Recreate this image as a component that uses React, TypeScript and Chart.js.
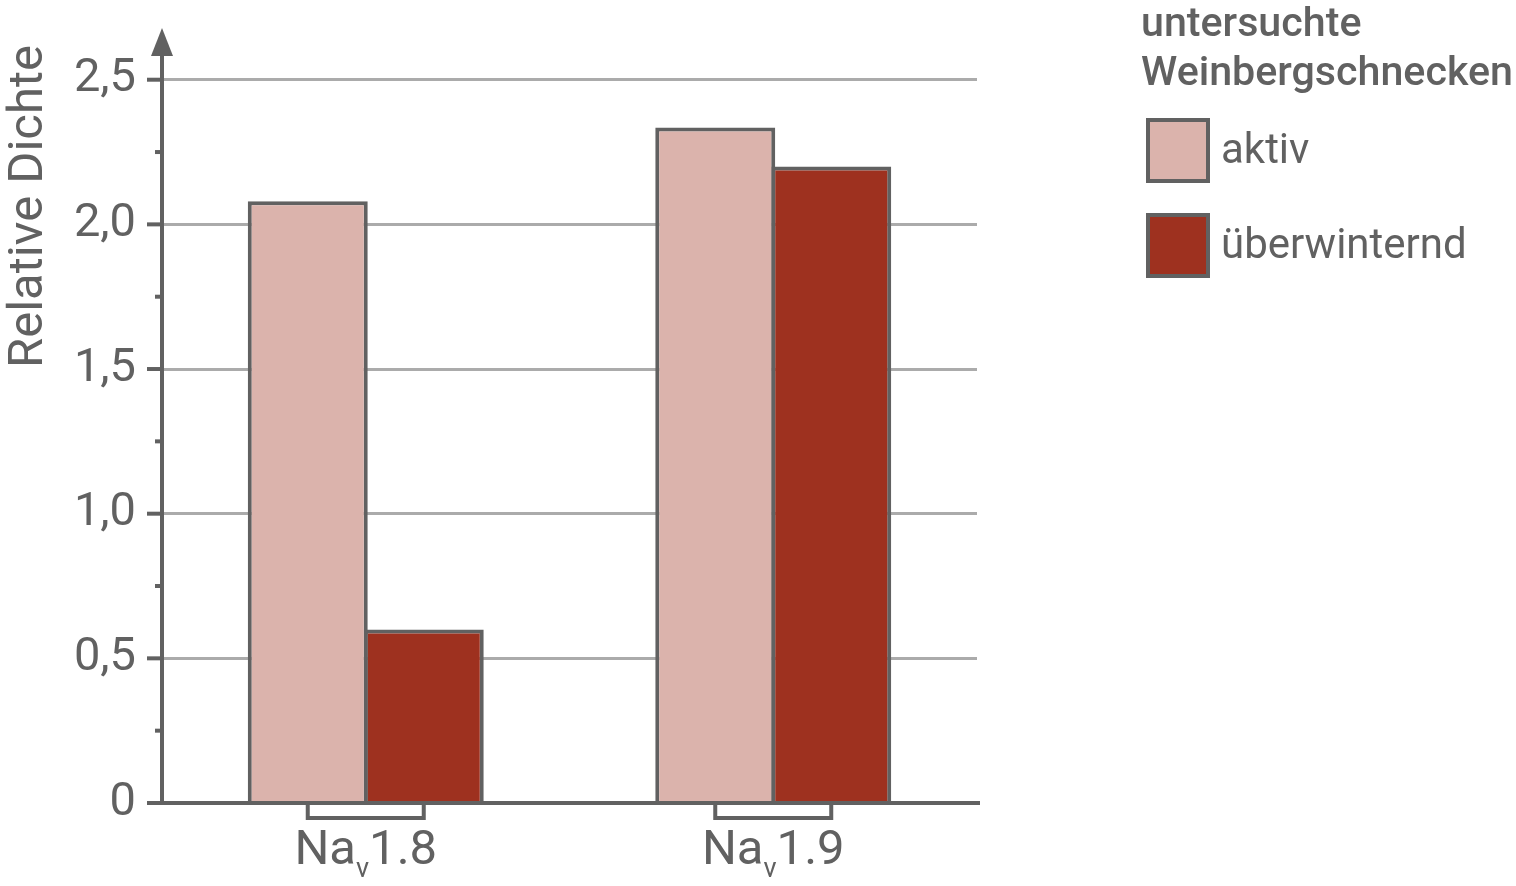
import React, { useEffect, useRef } from 'react';
import { Chart, registerables } from 'chart.js';

Chart.register(...registerables);

// ---- data ----
const categories = ['Na_v1.8', 'Na_v1.9'];
const seriesLabels = ['aktiv', 'überwinternd'];
const aktivValues = [2.08, 2.335];
const ueberwinterndValues = [0.6, 2.2];
const yMajorTicks = [0, 0.5, 1, 1.5, 2, 2.5];
const yTickLabels = ['0', '0,5', '1,0', '1,5', '2,0', '2,5'];
const yMinorTicks = [0.25, 0.75, 1.25, 1.75, 2.25];
const yTitle = 'Relative Dichte';
const legendTitle = ['untersuchte', 'Weinbergschnecken'];

// ---- styles ----
const GRAY = '#616161';
const GRID = '#ababab';
const COLORS = ['#dbb3ac', '#9e311f'];
const FONT = 'Roboto';

const decorPlugin = {
  id: 'decor',
  afterDatasetsDraw(chart: any) {
    const ctx = chart.ctx as CanvasRenderingContext2D;
    const { left, right, bottom } = chart.chartArea;
    const ys = chart.scales.y;
    ctx.save();
    ctx.strokeStyle = GRAY;
    ctx.fillStyle = GRAY;
    ctx.lineWidth = 4;
    ctx.lineCap = 'butt';
    // x axis line (on top of bars)
    ctx.beginPath();
    ctx.moveTo(left - 15, bottom);
    ctx.lineTo(right + 3, bottom);
    ctx.stroke();
    // y tick marks
    yMajorTicks.forEach((v) => {
      const p = ys.getPixelForValue(v);
      ctx.beginPath();
      ctx.moveTo(left - 15, p);
      ctx.lineTo(left, p);
      ctx.stroke();
    });
    yMinorTicks.forEach((v) => {
      const p = ys.getPixelForValue(v);
      ctx.beginPath();
      ctx.moveTo(left - 7, p);
      ctx.lineTo(left, p);
      ctx.stroke();
    });
    // y axis line up to the arrow
    ctx.beginPath();
    ctx.moveTo(left, bottom);
    ctx.lineTo(left, 50);
    ctx.stroke();
    // arrow head
    ctx.beginPath();
    ctx.moveTo(left, 28);
    ctx.lineTo(left - 11, 56);
    ctx.lineTo(left + 11, 56);
    ctx.closePath();
    ctx.fill();
    // brackets
    const m0 = chart.getDatasetMeta(0);
    const m1 = chart.getDatasetMeta(1);
    ctx.lineJoin = 'miter';
    categories.forEach((_, i) => {
      const xa = m0.data[i].x;
      const xb = m1.data[i].x;
      ctx.beginPath();
      ctx.moveTo(xa, bottom);
      ctx.lineTo(xa, bottom + 15);
      ctx.lineTo(xb, bottom + 15);
      ctx.lineTo(xb, bottom);
      ctx.stroke();
    });
    ctx.restore();
  },
  afterDraw(chart: any) {
    const ctx = chart.ctx as CanvasRenderingContext2D;
    const xs = chart.scales.x;
    ctx.save();
    ctx.fillStyle = GRAY;
    ctx.textBaseline = 'alphabetic';
    ctx.textAlign = 'left';
    // category labels with subscript
    const mainFont = `400 49px ${FONT}`;
    const subFont = `400 27px ${FONT}`;
    categories.forEach((c, i) => {
      const [base, rest] = c.split('_');
      const sub = rest.charAt(0);
      const tail = rest.slice(1);
      ctx.font = mainFont;
      const wb = ctx.measureText(base).width;
      const wt = ctx.measureText(tail).width;
      ctx.font = subFont;
      const ws = ctx.measureText(sub).width;
      const total = wb + ws + wt;
      let x = xs.getPixelForValue(i) - total / 2;
      ctx.font = mainFont;
      ctx.fillText(base, x, 864);
      x += wb;
      ctx.font = subFont;
      ctx.fillText(sub, x, 877);
      x += ws;
      ctx.font = mainFont;
      ctx.fillText(tail, x, 864);
    });
    // legend title, sized to the reference width
    ctx.font = `500 44px ${FONT}`;
    const tw = ctx.measureText(legendTitle[1]).width;
    const size = Math.min(45, (44 * 372) / tw);
    ctx.font = `500 ${size.toFixed(1)}px ${FONT}`;
    ctx.fillText(legendTitle[0], 1141, 36);
    ctx.fillText(legendTitle[1], 1141, 85);
    const boxTops = [118, 213];
    chart.data.datasets.forEach((ds: any, i: number) => {
      const bx = 1146;
      const by = boxTops[i];
      ctx.fillStyle = GRAY;
      ctx.fillRect(bx, by, 64, 65);
      ctx.fillStyle = ds.backgroundColor;
      ctx.fillRect(bx + 4, by + 4, 56, 57);
      ctx.fillStyle = GRAY;
      ctx.font = `400 42px ${FONT}`;
      ctx.fillText(ds.label, 1221, by + 45);
    });
    ctx.restore();
  },
};

export default function App() {
  const ref = useRef<HTMLCanvasElement>(null);
  useEffect(() => {
    if (!ref.current) return;
    Chart.defaults.font.family = FONT;
    const chart = new Chart(ref.current, {
      type: 'bar',
      data: {
        labels: categories,
        datasets: [
          {
            label: seriesLabels[0],
            data: aktivValues,
            backgroundColor: COLORS[0],
            borderColor: GRAY,
            borderWidth: 4,
            borderSkipped: 'start',
            categoryPercentage: 0.5693,
            barPercentage: 1.0345,
          },
          {
            label: seriesLabels[1],
            data: ueberwinterndValues,
            backgroundColor: COLORS[1],
            borderColor: GRAY,
            borderWidth: 4,
            borderSkipped: 'start',
            categoryPercentage: 0.5693,
            barPercentage: 1.0345,
          },
        ],
      },
      options: {
        responsive: false,
        maintainAspectRatio: false,
        animation: false,
        layout: { padding: { top: 45, right: 539, left: 0, bottom: 0 } },
        plugins: {
          legend: { display: false },
          tooltip: { enabled: false },
        },
        scales: {
          x: {
            type: 'category',
            offset: true,
            grid: { display: false },
            ticks: { display: false },
            border: { color: GRAY, width: 4 },
            afterFit: (scale: any) => {
              scale.height = 83;
              scale.paddingLeft = 0;
              scale.paddingRight = 0;
            },
          },
          y: {
            type: 'linear',
            min: 0,
            max: 2.62,
            afterBuildTicks: (scale: any) => {
              scale.ticks = [...yMajorTicks, ...yMinorTicks]
                .sort((a, b) => a - b)
                .map((value) => ({ value }));
            },
            ticks: {
              autoSkip: false,
              padding: 26,
              color: GRAY,
              font: { size: 47, family: FONT },
              callback: (value: any) => {
                const i = yMajorTicks.indexOf(Number(value));
                return i >= 0 ? yTickLabels[i] : '';
              },
            },
            grid: {
              drawTicks: false,
              lineWidth: 3,
              color: (c: any) =>
                c.tick && c.tick.value > 0 && yMajorTicks.includes(c.tick.value)
                  ? GRID
                  : 'rgba(0,0,0,0)',
            },
            border: { color: GRAY, width: 4 },
            title: {
              display: true,
              text: yTitle,
              align: 'end',
              color: GRAY,
              font: { size: 49, family: FONT },
              padding: 0,
            },
            afterFit: (scale: any) => {
              scale.width = 162;
              scale.paddingTop = 0;
              scale.paddingBottom = 0;
            },
          },
        },
      },
      plugins: [decorPlugin],
    } as any);
    return () => chart.destroy();
  }, []);
  return (
    <div
      style={{
        position: 'fixed',
        left: 0,
        top: 0,
        width: 1516,
        height: 886,
        background: '#ffffff',
      }}
    >
      <canvas
        ref={ref}
        width={1516}
        height={886}
        style={{ display: 'block', width: 1516, height: 886 }}
      />
    </div>
  );
}
